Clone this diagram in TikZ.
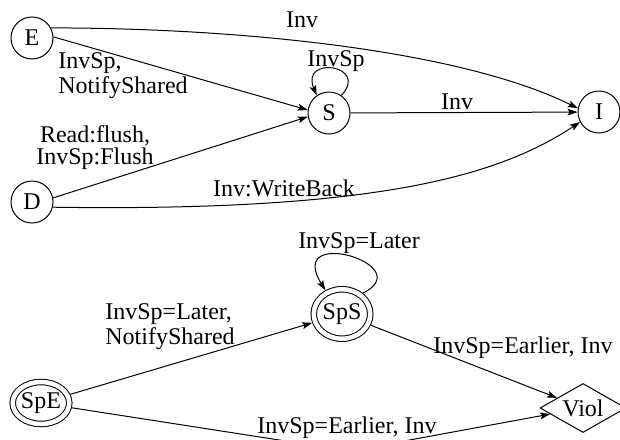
\documentclass[tikz,border=0pt]{standalone}
\usepackage{fontspec}
\setmainfont{Liberation Serif}
\usetikzlibrary{arrows.meta,shapes.geometric}
\begin{document}
\begin{tikzpicture}[x=0.5pt,y=-0.5pt,
  every node/.style={font=\fontsize{12}{11}\selectfont, inner sep=0pt},
  state/.style={circle, draw, line width=0.5pt, minimum size=21pt},
  spstate/.style={ellipse, draw, double, double distance=2.25pt, line width=0.5pt, outer sep=1.6pt},
  edge/.style={line width=0.5pt, -{Stealth[length=5pt,width=3.4pt,inset=1pt]}},
  lbl/.style={anchor=base},
  lblw/.style={anchor=base west, align=left}]
\useasboundingbox (0,0) rectangle (620,439);
% states
\node[state] (E) at (32,38) {E};
\node[state] (D) at (32,202) {D};
\node[state] (S) at (329,113) {S};
\node[state] (I) at (599,112) {I};
\node[spstate, minimum width=28.25pt, minimum height=24.75pt] (SpS) at (342,314) {SpS};
\node[spstate, minimum width=27.25pt, minimum height=21pt] (SpE) at (41,403) {SpE};
\node[diamond, draw, line width=0.5pt, aspect=1.75, minimum width=43pt, minimum height=24.5pt] (Viol) at (583,408) {Viol};
\coordinate (dip) at (350,451);
% edges
\draw[edge] (E.28) .. controls (240,28) and (460,50) .. (I.170);
\draw[edge] (E.3) -- (S.172);
\draw[edge] (S.55) .. controls (370,65) and (300,55) .. (S.125);
\draw[edge] (S) -- (I);
\draw[edge] (D.11) -- (S.190);
\draw[edge] (D.-14) .. controls (380,212) and (500,175) .. (I.208);
\draw[edge] (SpS.45) .. controls (420,265) and (285,225) .. (SpS.125);
\draw[edge] (SpE) -- (SpS);
\draw[edge] (SpS) -- (Viol);
\draw[edge, rounded corners=10pt] (SpE) -- (dip) -- (Viol);
% labels
\node[lbl] (l1) at (302,27) {Inv};
\node[lbl] (l2) at (336,66) {InvSp};
\node[lbl] (l3) at (457,109) {Inv};
\node[lbl] (l4) at (284,196) {Inv:WriteBack};
\node[lblw] (l5) at (58,93) {InvSp,\\NotifyShared};
\node[lbl, align=center] (l6) at (95,164) {Read:flush,\\InvSp:Flush};
\node[lblw] (l7) at (105,344) {InvSp=Later,\\NotifyShared};
\node[lbl] (l8) at (359,248) {InvSp=Later};
\node[lbl] (l9) at (523,353) {InvSp=Earlier, Inv};
\node[lbl] (l10) at (347,433) {InvSp=Earlier, Inv};
\end{tikzpicture}
\end{document}
